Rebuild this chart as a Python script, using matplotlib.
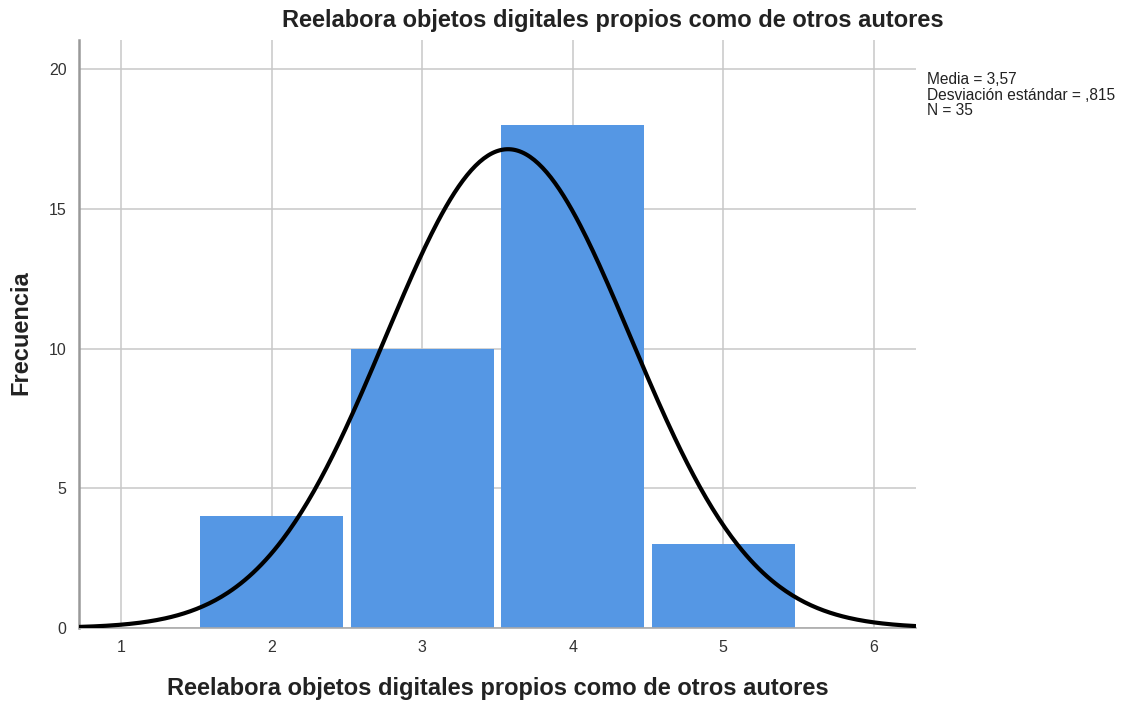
import numpy as np
import matplotlib
matplotlib.use("Agg")
import matplotlib.pyplot as plt

plt.rcParams['font.family'] = ['Liberation Sans', 'DejaVu Sans']

categories = [2, 3, 4, 5]
frequencies = [4, 10, 18, 3]
mean = 3.57
std = 0.815
n = 35
xticks = [1, 2, 3, 4, 5, 6]
yticks = [0, 5, 10, 15, 20]
title = "Reelabora objetos digitales propios como de otros autores"

fig = plt.figure(figsize=(11.26, 7.03), dpi=100)
ax = fig.add_axes([79/1126, 75/703, (916-79)/1126, (628-40)/703])

xmin, xmax = 0.72, 6.28
ax.set_xlim(xmin, xmax)
ax.set_ylim(0, 21.04)

ax.set_axisbelow(True)
ax.grid(True, color='#c8c8c8', linewidth=1.1)
ax.bar(categories, frequencies, width=0.947, color='#5597E4', zorder=2)

xs = np.linspace(xmin, xmax, 400)
ys = n * 1.0 / (std * np.sqrt(2 * np.pi)) * np.exp(-0.5 * ((xs - mean) / std) ** 2)
ax.plot(xs, ys, color='black', linewidth=3.0, zorder=3, solid_capstyle='butt')

ax.set_xticks(xticks)
ax.set_yticks(yticks)
ax.tick_params(length=0, labelsize=11.5, labelcolor='#333333', pad=9)
for s in ['top', 'right']:
    ax.spines[s].set_visible(False)
ax.spines['left'].set_color('#999999')
ax.spines['left'].set_linewidth(1.8)
ax.spines['bottom'].set_color('#aaaaaa')
ax.spines['bottom'].set_linewidth(1.2)

fig.text(613/1126, 1 - 21/703, title, ha='center', va='center', fontsize=17, fontweight='bold', color='#222222')
fig.text(498/1126, 1 - 689/703, title, ha='center', va='center', fontsize=17, fontweight='bold', color='#222222')
fig.text(21/1126, 1 - 333/703, "Frecuencia", ha='center', va='center', rotation=90, fontsize=17, fontweight='bold', color='#222222')

fig.text(927/1126, 1 - 95/703, "Media = 3,57\nDesviación estándar = ,815\nN = 35",
         ha='left', va='center', fontsize=11.2, color='#222222', linespacing=1.08)

fig.savefig("out.png", dpi=100)
